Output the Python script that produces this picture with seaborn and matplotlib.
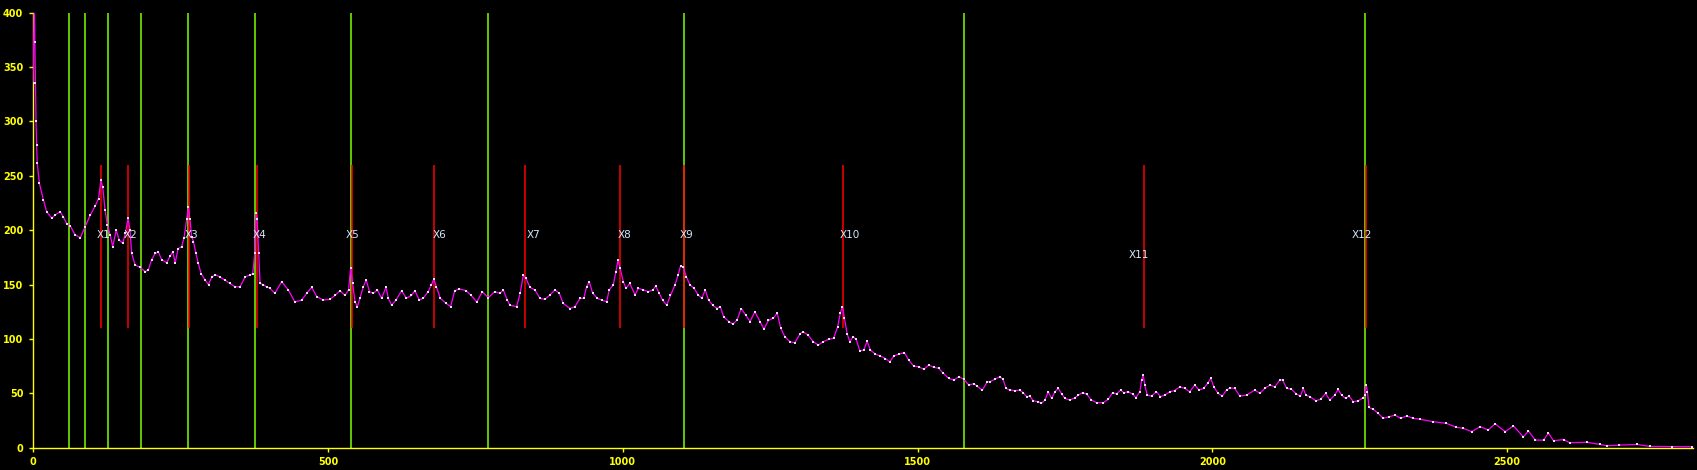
import numpy as np
import pandas as pd
import matplotlib
matplotlib.use("Agg")
import matplotlib.pyplot as plt
import seaborn as sns

# spectrum (x position, intensity)
spec_x = [0, 2, 3, 4, 5, 6, 7, 10.7, 17.5, 23, 31.6, 37, 46, 51, 57, 63, 71, 80, 88, 97,
          105, 111, 115, 118, 122, 126, 130.5, 135, 141, 146, 152, 156.5, 161, 164.5, 167, 173, 181, 190, 195.5, 201,
          207, 212.5, 218, 226.6, 232, 237, 241, 246, 252, 256, 260.5, 263.4, 266, 269, 272, 276, 280, 285, 292, 297.5,
          303, 309, 317, 325.5, 334, 342.5, 351, 359.5, 368, 372.5, 376, 378, 380, 382.6, 385, 390.6, 396, 401.8, 410, 421.6,
          433, 444, 455.5, 464, 472.5, 481, 492, 503.5, 512, 520.5, 529, 535, 538.5, 542, 546, 550, 554.3, 560, 565, 570.5,
          577, 584, 591, 598.5, 602.5, 608, 615.5, 625, 633, 641.6, 647.4, 655, 661.5, 670, 675.5, 679.5, 684, 690.6, 700.6, 708,
          715, 723, 734.5, 743, 752.5, 761.8, 772, 783, 791.6, 797.5, 804, 808.7, 820, 826, 831.4, 836, 842.6, 851, 859.5, 868,
          876.5, 885, 892.4, 899, 910.5, 919, 927.5, 934, 938.7, 943.3, 949, 957, 964, 972.8, 977, 984, 988.5, 992, 995.5, 1001,
          1005.5, 1012, 1021, 1026.5, 1035, 1043.3, 1051, 1056, 1062, 1067.5, 1074.5, 1081, 1088.6, 1094, 1098, 1102.6, 1108, 1114, 1121, 1128,
          1134, 1140, 1145.5, 1152.6, 1160, 1165.5, 1171, 1180, 1187, 1194, 1201, 1208.5, 1216, 1224, 1233, 1239.4, 1247, 1255, 1262, 1268,
          1275, 1283.5, 1292, 1301, 1306, 1314.6, 1323, 1332, 1340, 1349, 1357.5, 1364.4, 1369, 1372.6, 1376, 1380.5, 1385, 1390.7, 1396, 1402,
          1408.8, 1414.5, 1420, 1428.6, 1437, 1445.5, 1453, 1459.6, 1468, 1477.8, 1485, 1493.6, 1502, 1510.5, 1519, 1527.6, 1536, 1543.7, 1553, 1561.7,
          1570, 1578.7, 1587, 1595.6, 1601, 1609.8, 1618.3, 1622.6, 1631, 1639.5, 1645, 1650, 1656.6, 1665, 1673.5, 1679, 1685, 1690.6, 1696, 1704.6,
          1710, 1716, 1721.6, 1727.4, 1733, 1738.7, 1744.3, 1750, 1758.5, 1767, 1772.6, 1780, 1786.6, 1795, 1803.6, 1815, 1823.4, 1830.7, 1837.5, 1844.3,
          1850, 1857.3, 1864.7, 1870.3, 1877, 1880, 1882.6, 1885.5, 1889.4, 1896.8, 1905, 1912, 1919.4, 1928, 1936, 1944.6, 1953, 1961.6, 1970, 1977.5,
          1985.4, 1992.7, 1997.3, 2002.4, 2009.7, 2017, 2024, 2029.7, 2038, 2046.5, 2058, 2072, 2080.5, 2089, 2097.5, 2106, 2114.4, 2119, 2126, 2134,
          2142.6, 2149.4, 2154, 2158.5, 2165.4, 2175.5, 2183.5, 2192, 2199, 2207.6, 2213.3, 2219, 2226, 2232, 2239, 2247.6, 2256, 2258.5, 2261, 2263,
          2265.6, 2272.8, 2281.3, 2290, 2300, 2309.6, 2319.3, 2329.5, 2340.8, 2352, 2374, 2397, 2414, 2425, 2440, 2454, 2468, 2479.5, 2496.5, 2510.6,
          2527.5, 2536, 2547.6, 2561.6, 2570, 2578.6, 2595.5, 2606, 2635, 2658, 2669, 2690, 2720, 2742, 2780, 2813]
spec_y = [335, 410, 373, 335, 300, 278, 262, 243, 228, 217, 211, 214, 217, 212.5, 206, 204, 196, 193, 203, 214,
          222, 229, 246, 240, 219, 205, 196, 185, 200, 191, 188, 197, 211, 200, 179, 168, 166, 162, 163.5, 173,
          178.6, 180, 173, 170, 176, 180, 170, 183, 185, 193, 210, 221, 210, 194, 189.5, 179, 170, 160, 154, 150,
          157, 159, 157, 154, 151, 148, 148, 157, 159, 160, 179, 216, 210, 179, 151, 150, 148, 146.6, 142, 152.7,
          145, 134, 135.8, 142, 147.5, 139, 135.8, 136.4, 140, 144.4, 140, 145, 165, 151, 134, 129.7, 137.4, 148, 154.2, 143.5,
          142, 145, 137.4, 147.5, 137.4, 131, 135.8, 144.4, 137.4, 140, 144.4, 135.8, 137.4, 143.5, 149.7, 155, 148, 137.4, 132.7, 129.7,
          144.4, 146, 144.4, 140, 134, 143.5, 138, 143.5, 142, 145, 136, 131, 129.7, 142, 158.8, 155.7, 147.5, 145, 137.4, 136.4,
          140.5, 145, 142, 132.7, 128, 129.7, 137.4, 137.4, 148, 152.7, 142, 137.4, 135.8, 134.3, 145, 149.7, 162, 172.6, 165, 152.7,
          146.6, 151, 140.5, 146.6, 145, 143.5, 145, 148.7, 142, 135.8, 131, 140, 149.7, 158.8, 167, 166, 157, 149.7, 146.6, 140.5,
          137.4, 145, 135.8, 131, 128, 129.7, 120.5, 116, 113.7, 117.5, 128, 122, 116, 125, 116, 109, 117, 119, 123.6, 110,
          102, 97.5, 96.6, 105, 106.7, 103.5, 97.5, 94.4, 97.5, 99.6, 100.5, 111, 123.6, 129.7, 119, 105, 97.5, 102, 99.6, 89.2,
          89.8, 98, 89.8, 86, 84.3, 82, 79, 84.3, 86, 87.4, 80.6, 75, 74.5, 72, 76, 73.9, 73, 68.4, 63.7, 62.2,
          65.3, 62.8, 57.6, 59, 56.6, 53, 60.6, 60.7, 62.9, 65.3, 62.9, 54.6, 53, 52.5, 53, 50.6, 47, 47.5, 43.2, 42.3,
          40.8, 43.8, 51.5, 45.3, 51.5, 54.6, 49.4, 45.3, 43.8, 46, 48.4, 50.6, 49.4, 43.8, 41.4, 41.4, 44.5, 50.6, 49.4, 53,
          50.6, 51.5, 49.4, 46, 51.5, 62.3, 66.8, 57.6, 48.4, 47.5, 51.5, 47, 48.4, 51.5, 52.5, 56, 54.6, 51.5, 57.6, 53,
          54.6, 59.8, 63.8, 56, 50, 47.5, 53, 55, 54.6, 47.5, 48.4, 53, 50, 54.6, 57.6, 56, 62.3, 62.3, 54.6, 53.7,
          49.4, 47.5, 54.6, 48.4, 47, 43.2, 44.5, 50, 43.8, 48.4, 53.7, 48.4, 45.3, 47.5, 42.3, 43.2, 46, 48.4, 57.6, 51.5,
          37, 35.3, 31.6, 27, 28.5, 30, 27, 29.2, 27, 26.2, 24, 22.4, 18.7, 17.9, 14.8, 19.4, 16.3, 22, 14.8, 20,
          10, 15.5, 7, 7, 13.5, 6.4, 7.5, 4.6, 5, 3, 1.8, 2.4, 3.0, 1.2, 1.0, 0.9]

# boundaries (green) and marked peaks (red)
green_x = [61.5, 88.7, 127.7, 183.6, 263.3, 376.9, 539.7, 772, 1104.3, 1579, 2259]
peak_x = [0, 115.8, 161.6, 265, 380.3, 541.4, 680.5, 834.8, 995.8, 1104.3, 1374, 1884, 2260]
peak_lo, peak_hi = 110, 260
label_text = ["X1", "X2", "X3", "X4", "X5", "X6", "X7", "X8", "X9", "X10", "X11", "X12"]
label_x = [107.3, 154.3, 256.5, 371.8, 530.7, 677, 837.6, 991.3, 1097, 1368.3, 1858, 2236]
label_y = [195.6, 195.6, 195.6, 195.6, 195.6, 195.6, 195.6, 195.6, 195.6, 195.6, 177, 195.6]

df = pd.DataFrame({"pos": spec_x, "val": spec_y})

sns.set_theme(style="ticks", rc={
    "axes.facecolor": "black", "figure.facecolor": "black",
    "axes.edgecolor": "#ffff00", "xtick.color": "#ffff00", "ytick.color": "#ffff00",
})
plt.rcParams['font.family'] = ['DejaVu Sans']

fig = plt.figure(figsize=(16.97, 4.70), dpi=100)
ax = fig.add_axes([0.0195, 0.0474, 0.9781, 0.9256])

ax.vlines(green_x, 0, 400, colors="#7CFC00", linewidth=1.1, zorder=1)
ax.vlines(peak_x, peak_lo, peak_hi, colors="#ff0000", linewidth=1.1, zorder=2)
ax.vlines([0], peak_hi, 335, colors="#5878b0", linewidth=1.1, zorder=2)

sns.lineplot(data=df, x="pos", y="val", color="#ff00ff", linewidth=0.9, ax=ax, zorder=3)
sns.scatterplot(data=df, x="pos", y="val", color="#e4e4e4", s=4, linewidth=0, marker="s", ax=ax, zorder=4)

for t, lx, ly in zip(label_text, label_x, label_y):
    ax.text(lx, ly, t, color="#d4eaff", fontsize=7.5, va="center", ha="left", zorder=5)

ax.set_xlim(0, 2815)
ax.set_ylim(0, 400)
ax.set_xticks(np.arange(0, 2501, 500))
ax.set_yticks(np.arange(0, 401, 50))
ax.set_xlabel("")
ax.set_ylabel("")
for s in ["top", "right"]:
    ax.spines[s].set_visible(False)
ax.spines["left"].set_linewidth(1)
ax.spines["bottom"].set_linewidth(1)
ax.tick_params(axis="both", length=3, width=1, labelsize=7, pad=4)
for lab in ax.get_xticklabels() + ax.get_yticklabels():
    lab.set_fontweight("bold")
    lab.set_color("#ffff00")

fig.savefig("out.png", dpi=100, facecolor="black")
